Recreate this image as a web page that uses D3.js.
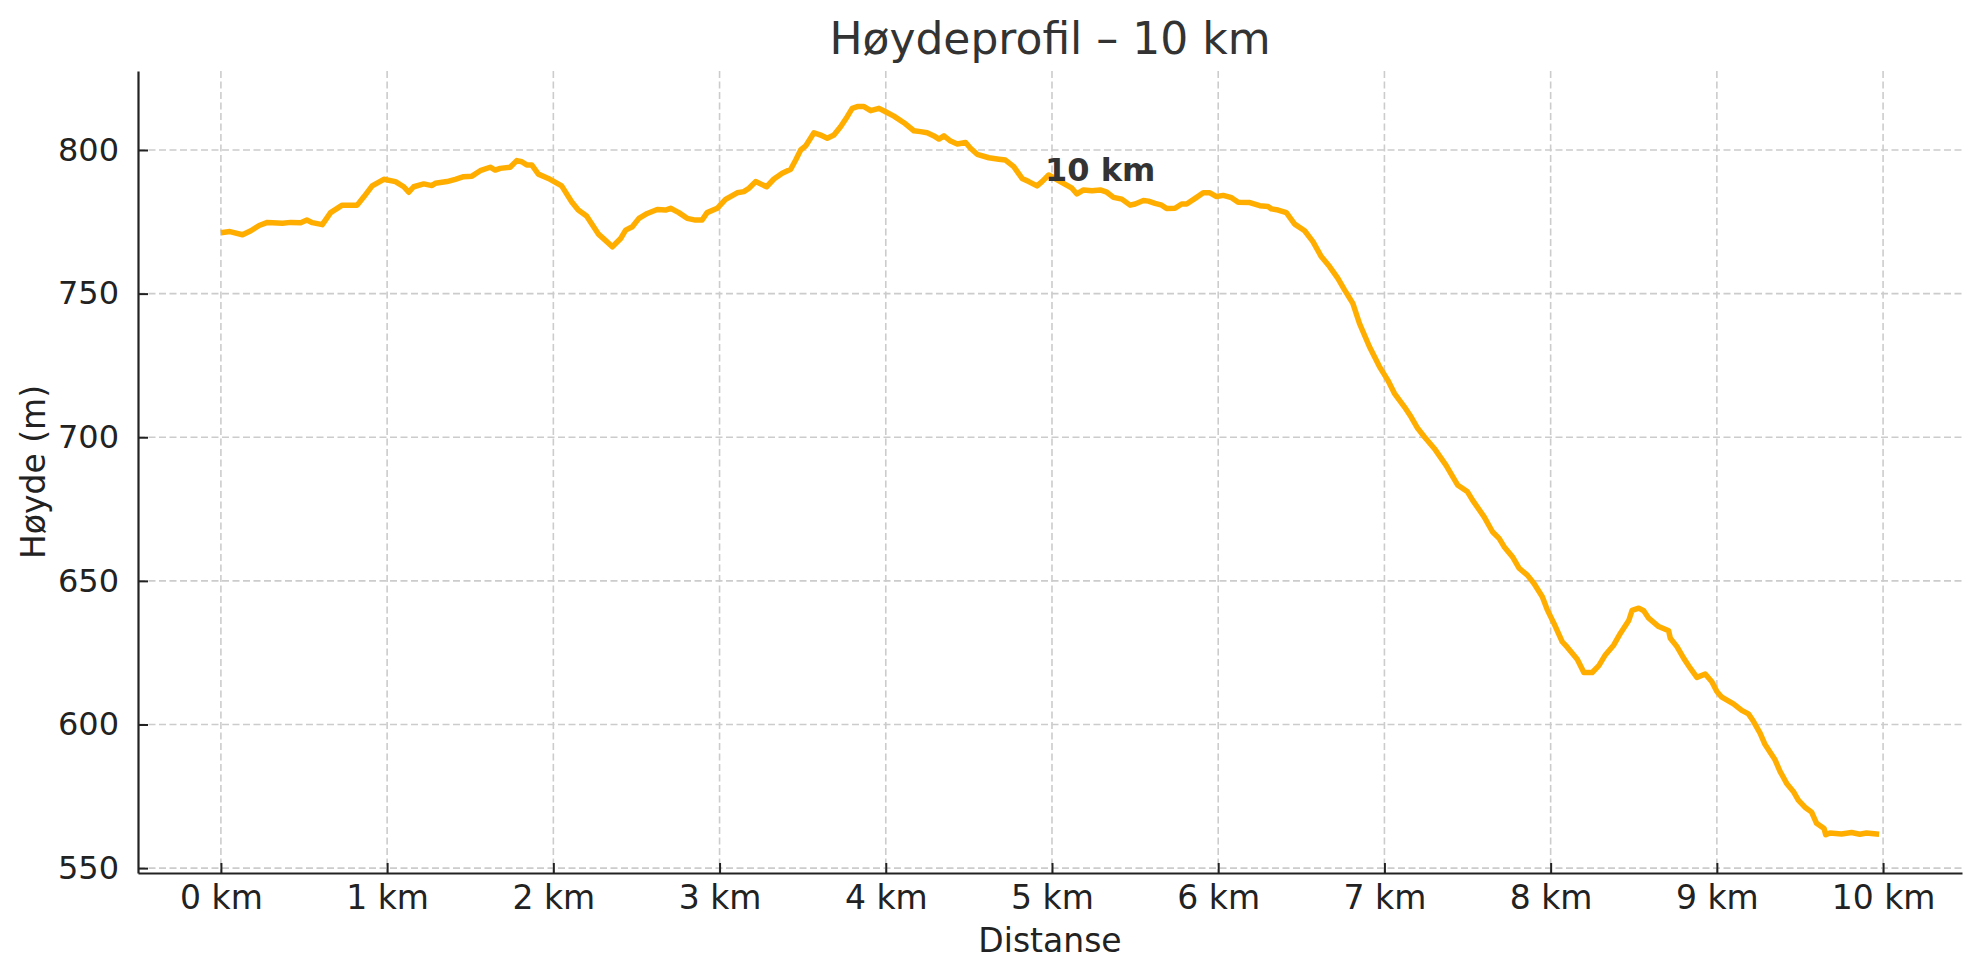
<!DOCTYPE html>
<html>
<head>
<meta charset="utf-8">
<script src="https://cdn.jsdelivr.net/npm/d3@7"></script>
<style>
  html, body { margin: 0; padding: 0; background: #ffffff; }
  svg { display: block; font-family: "DejaVu Sans", sans-serif; }
</style>
</head>
<body>
<svg id="chart" width="1979" height="980"></svg>
<script>
// ---- Data ----
const titleText = "Høydeprofil – 10 km";
const xLabelText = "Distanse";
const yLabelText = "Høyde (m)";

const distanceKm = [
  0.00, 0.054, 0.13, 0.18, 0.23, 0.28, 0.37, 0.42, 0.48, 0.517, 0.55, 0.61, 0.66, 0.73, 0.82, 0.86, 0.91, 0.98,
  1.05, 1.10, 1.13, 1.16, 1.22, 1.27, 1.29, 1.36, 1.41, 1.46, 1.51, 1.56, 1.62, 1.65, 1.68, 1.74, 1.78, 1.81, 1.84, 1.87, 1.91, 1.97,
  2.05, 2.11, 2.15, 2.20, 2.27, 2.31, 2.355, 2.405, 2.435, 2.475, 2.515, 2.565, 2.625, 2.675, 2.705, 2.755, 2.805, 2.855, 2.895, 2.925, 2.986,
  3.036, 3.106, 3.146, 3.177, 3.217, 3.283, 3.327, 3.377, 3.428, 3.458, 3.488, 3.518, 3.568, 3.608, 3.648, 3.688, 3.728, 3.768, 3.798, 3.829, 3.869, 3.909, 3.959, 3.999,
  4.049, 4.109, 4.169, 4.209, 4.249, 4.29, 4.32, 4.35, 4.39, 4.43, 4.48, 4.51, 4.55, 4.62, 4.68, 4.72, 4.77, 4.82, 4.86, 4.91, 4.94, 4.98,
  5.05, 5.12, 5.15, 5.19, 5.24, 5.29, 5.33, 5.37, 5.42, 5.47, 5.50, 5.55, 5.58, 5.62, 5.66, 5.69, 5.74, 5.78, 5.81, 5.87, 5.91, 5.95, 5.99,
  6.03, 6.08, 6.12, 6.19, 6.25, 6.30, 6.32, 6.36, 6.41, 6.46, 6.52, 6.57, 6.62, 6.67, 6.72, 6.76, 6.81, 6.85, 6.91, 6.97,
  7.02, 7.06, 7.12, 7.16, 7.20, 7.24, 7.30, 7.37, 7.44, 7.50, 7.53, 7.60, 7.65, 7.69, 7.72, 7.77, 7.81, 7.86, 7.90, 7.95, 7.98,
  8.02, 8.07, 8.10, 8.16, 8.20, 8.25, 8.29, 8.33, 8.38, 8.42, 8.47, 8.49, 8.53, 8.56, 8.59, 8.65, 8.71, 8.72, 8.76, 8.80, 8.84, 8.88, 8.93, 8.97,
  9.00, 9.03, 9.10, 9.15, 9.19, 9.22, 9.26, 9.29, 9.35, 9.38, 9.42, 9.46, 9.49, 9.53, 9.57, 9.60, 9.645, 9.655, 9.68, 9.75, 9.81, 9.86, 9.90, 9.976
];

const elevationM = [
  771.2, 771.6, 770.5, 771.9, 773.7, 774.8, 774.5, 774.8, 774.7, 775.6, 774.7, 774.0, 778.2, 780.8, 780.8, 783.7, 787.5, 789.8,
  789.0, 787.2, 785.3, 787.2, 788.2, 787.6, 788.4, 789.0, 789.8, 790.7, 790.9, 792.8, 794.0, 793.0, 793.6, 794.0, 796.3, 795.9, 794.8, 794.8, 791.6, 790.1,
  787.5, 782.0, 779.1, 777.0, 770.8, 768.7, 766.3, 769.2, 772.1, 773.3, 776.2, 777.9, 779.3, 779.1, 779.7, 778.2, 776.2, 775.6, 775.6, 778.2, 779.7,
  782.8, 785.1, 785.5, 786.7, 789.0, 787.2, 789.9, 791.9, 793.3, 796.5, 800.0, 801.4, 806.0, 805.2, 804.1, 805.2, 808.1, 811.6, 814.5, 815.1, 815.1, 813.7, 814.5, 813.3,
  811.8, 809.5, 806.7, 806.4, 806.0, 804.9, 803.8, 804.9, 803.1, 802.1, 802.6, 800.6, 798.5, 797.3, 796.8, 796.5, 794.2, 790.1, 789.0, 787.5, 789.0, 791.3,
  789.0, 786.7, 784.7, 786.1, 785.8, 786.1, 785.3, 783.5, 782.9, 780.8, 781.2, 782.4, 782.2, 781.4, 780.8, 779.6, 779.7, 781.2, 781.2, 783.5, 785.1, 785.1, 783.8,
  784.2, 783.4, 781.8, 781.7, 780.6, 780.3, 779.5, 779.1, 778.2, 774.2, 771.9, 768.1, 762.9, 759.4, 755.3, 751.3, 746.6, 739.6, 731.5, 724.6,
  719.9, 715.3, 710.6, 707.1, 703.1, 700.2, 696.1, 690.3, 683.4, 681.0, 678.1, 672.3, 667.1, 664.8, 661.9, 658.4, 654.4, 652.0, 649.1, 644.5, 639.9,
  635.2, 628.8, 626.9, 622.7, 618.1, 618.1, 620.5, 624.3, 627.7, 631.8, 636.2, 639.7, 640.5, 639.6, 637.0, 634.1, 632.6, 630.0, 627.1, 623.1, 619.6, 616.4, 617.6, 614.9,
  611.5, 609.5, 607.2, 604.9, 603.7, 601.1, 597.0, 593.0, 587.7, 583.7, 579.5, 576.7, 573.7, 571.2, 569.5, 565.6, 563.8, 561.6, 562.2, 561.9, 562.4, 561.8, 562.2, 561.8
];

const xTickValues = [0, 1, 2, 3, 4, 5, 6, 7, 8, 9, 10];
const xTickLabels = ["0 km", "1 km", "2 km", "3 km", "4 km", "5 km", "6 km", "7 km", "8 km", "9 km", "10 km"];
const yTickValues = [550, 600, 650, 700, 750, 800];

const annotationText = "10 km";
const annotationKm = [5.29];
const annotationElev = [789.2];

// ---- Layout ----
const svg = d3.select("#chart");
const plot = { left: 138, right: 1962, top: 71, bottom: 873 };

const x = d3.scaleLinear().domain([-0.4988, 10.4748]).range([plot.left, plot.right]);
const y = d3.scaleLinear().domain([548.3, 827.5]).range([plot.bottom, plot.top]);

const axisColor = "#222222";
const gridColor = "#cccccc";

// Grid
const grid = svg.append("g");
grid.selectAll("line.vx").data(xTickValues).enter().append("line")
  .attr("x1", d => x(d)).attr("x2", d => x(d))
  .attr("y1", plot.top).attr("y2", plot.bottom)
  .attr("stroke", gridColor).attr("stroke-width", 1.6)
  .attr("stroke-dasharray", "7,3.5");
grid.selectAll("line.hy").data(yTickValues).enter().append("line")
  .attr("x1", plot.left).attr("x2", plot.right)
  .attr("y1", d => y(d)).attr("y2", d => y(d))
  .attr("stroke", gridColor).attr("stroke-width", 1.6)
  .attr("stroke-dasharray", "7,3.5");

// Line
const points = distanceKm.map((d, i) => [d, elevationM[i]]);
const line = d3.line().x(d => x(d[0])).y(d => y(d[1]));
svg.append("path")
  .datum(points)
  .attr("d", line)
  .attr("fill", "none")
  .attr("stroke", "#ffae00")
  .attr("stroke-width", 5.5)
  .attr("stroke-linejoin", "round")
  .attr("stroke-linecap", "butt");

// Axes (ticks pointing inwards)
const xAxis = d3.axisBottom(x).tickValues(xTickValues)
  .tickFormat((d, i) => xTickLabels[i]).tickSizeInner(-10).tickSizeOuter(0).tickPadding(13);
const gx = svg.append("g").attr("transform", `translate(0,${plot.bottom})`).call(xAxis);
gx.select(".domain").attr("stroke", axisColor).attr("stroke-width", 2.2);
gx.selectAll(".tick line").attr("stroke", axisColor).attr("stroke-width", 2);
gx.selectAll(".tick text")
  .attr("font-family", "DejaVu Sans").attr("font-size", 33).attr("fill", axisColor);

const yAxis = d3.axisLeft(y).tickValues(yTickValues)
  .tickSizeInner(-10).tickSizeOuter(0).tickPadding(19);
const gy = svg.append("g").attr("transform", `translate(${plot.left},0)`).call(yAxis);
gy.select(".domain").attr("stroke", axisColor).attr("stroke-width", 2.2);
gy.selectAll(".tick line").attr("stroke", axisColor).attr("stroke-width", 2);
gy.selectAll(".tick text")
  .attr("font-family", "DejaVu Sans").attr("font-size", 32).attr("fill", axisColor);

// Annotation
svg.append("text")
  .attr("x", x(annotationKm[0]))
  .attr("y", y(annotationElev[0]))
  .attr("text-anchor", "middle")
  .attr("font-family", "DejaVu Sans").attr("font-weight", "bold")
  .attr("font-size", 32).attr("fill", "#333333")
  .text(annotationText);

// Title
svg.append("text")
  .attr("x", (plot.left + plot.right) / 2).attr("y", 54)
  .attr("text-anchor", "middle")
  .attr("font-family", "DejaVu Sans").attr("font-size", 44).attr("fill", "#333333")
  .text(titleText);

// Axis labels
svg.append("text")
  .attr("x", (plot.left + plot.right) / 2).attr("y", 952)
  .attr("text-anchor", "middle")
  .attr("font-family", "DejaVu Sans").attr("font-size", 33).attr("fill", axisColor)
  .text(xLabelText);

svg.append("text")
  .attr("transform", `translate(45,${(plot.top + plot.bottom) / 2}) rotate(-90)`)
  .attr("text-anchor", "middle")
  .attr("font-family", "DejaVu Sans").attr("font-size", 33).attr("fill", axisColor)
  .text(yLabelText);
</script>
</body>
</html>
